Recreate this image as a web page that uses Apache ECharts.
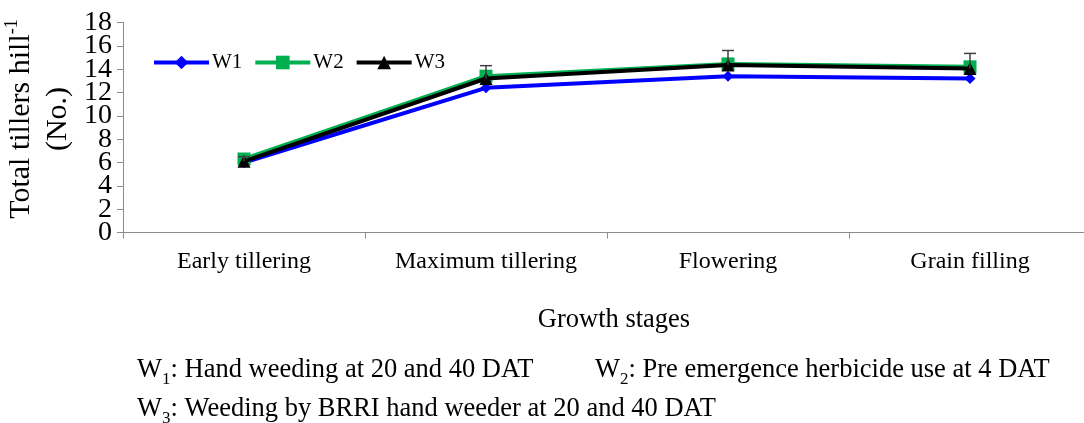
<!DOCTYPE html>
<html>
<head>
<meta charset="utf-8">
<script src="https://cdn.jsdelivr.net/npm/echarts@6/dist/echarts.min.js"></script>
<style>
html,body{margin:0;padding:0;background:#fff;}
#chart{width:1084px;height:423px;}
</style>
</head>
<body>
<div id="chart"></div>
<script>
const categories = ['Early tillering', 'Maximum tillering', 'Flowering', 'Grain filling'];
const seriesNames = ['W1', 'W2', 'W3'];
const w1 = [6.0, 12.4, 13.4, 13.2];
const w2 = [6.3, 13.4, 14.45, 14.2];
const w3 = [6.1, 13.2, 14.35, 14.05];
const w3Error = [0.4, 1.1, 1.25, 1.3];
const yTicks = { min: 0, max: 18, interval: 2 };

const FONT = '"Liberation Serif", "Times New Roman", serif';
const chart = echarts.init(document.getElementById('chart'), null, { renderer: 'canvas' });

const errData = categories.map((c, i) => [i, w3[i], w3[i] + w3Error[i]]);

// Labels are split over two overlaid axes (alternating ticks) so that ECharts
// does not drop any of the tightly packed tick labels.
function yLabelStyle(keepRemainder) {
  return {
    fontFamily: FONT, fontSize: 28, color: '#000', margin: 11,
    showMinLabel: true, showMaxLabel: true, hideOverlap: false,
    formatter: function (v) {
      return (Math.round(v / yTicks.interval) % 2 === keepRemainder) ? String(v) : '';
    }
  };
}

const option = {
  animation: false,
  backgroundColor: '#ffffff',
  grid: { left: 123, width: 968, top: 22.5, bottom: 190.5, containLabel: false, outerBoundsMode: 'none' },
  legend: {
    left: 147, top: 47,
    itemWidth: 55, itemHeight: 17, itemGap: 11,
    lineStyle: { width: 4 },
    textStyle: { fontFamily: FONT, fontSize: 21, color: '#000', padding: [0, 0, 0, -2] },
    data: seriesNames
  },
  xAxis: {
    type: 'category',
    data: categories,
    boundaryGap: true,
    axisLine: { lineStyle: { color: '#8c8c8c', width: 1 } },
    axisTick: { show: true, length: 6, lineStyle: { color: '#8c8c8c' } },
    axisLabel: { fontFamily: FONT, fontSize: 24, color: '#000', margin: 17 },
    splitLine: { show: false }
  },
  yAxis: [
    {
      type: 'value', position: 'left', offset: 0,
      min: yTicks.min, max: yTicks.max, interval: yTicks.interval,
      axisLine: { show: true, lineStyle: { color: '#8c8c8c', width: 1 } },
      axisTick: { show: true, length: 6, lineStyle: { color: '#8c8c8c' } },
      axisLabel: yLabelStyle(0),
      splitLine: { show: false }
    },
    {
      type: 'value', position: 'left', offset: 0,
      min: yTicks.min, max: yTicks.max, interval: yTicks.interval,
      axisLine: { show: false },
      axisTick: { show: false },
      axisLabel: yLabelStyle(1),
      splitLine: { show: false }
    }
  ],
  series: [
    {
      name: 'W1', type: 'line', data: w1, yAxisIndex: 0,
      symbol: 'diamond', symbolSize: 11,
      lineStyle: { color: '#0000ff', width: 4 },
      itemStyle: { color: '#0000ff' },
      z: 2
    },
    {
      name: 'W2', type: 'line', data: w2, yAxisIndex: 0,
      symbol: 'rect', symbolSize: 13,
      lineStyle: { color: '#00b050', width: 4 },
      itemStyle: { color: '#00b050' },
      z: 3
    },
    {
      name: 'W3', type: 'line', data: w3, yAxisIndex: 0,
      symbol: 'triangle', symbolSize: 13,
      lineStyle: { color: '#000000', width: 4 },
      itemStyle: { color: '#000000' },
      z: 4
    },
    {
      type: 'custom',
      name: 'err',
      data: errData,
      yAxisIndex: 0,
      z: 5,
      renderItem: function (params, api) {
        const x = api.value(0);
        const lo = api.coord([x, api.value(1)]);
        const hi = api.coord([x, api.value(2)]);
        const half = 6;
        const st = { stroke: '#404040', lineWidth: 1.5 };
        return {
          type: 'group',
          children: [
            { type: 'line', shape: { x1: lo[0], y1: lo[1], x2: hi[0], y2: hi[1] }, style: st },
            { type: 'line', shape: { x1: hi[0] - half, y1: hi[1], x2: hi[0] + half, y2: hi[1] }, style: st }
          ]
        };
      }
    }
  ],
  graphic: [
    {
      type: 'text', x: 40, y: 119, rotation: Math.PI / 2,
      style: {
        text: 'Total tillers hill{sup|-1}\n(No.)',
        align: 'center', verticalAlign: 'middle',
        fontFamily: FONT, fontSize: 30, lineHeight: 37, fill: '#000',
        rich: {
          sup: { fontFamily: FONT, fontSize: 18, lineHeight: 18, verticalAlign: 'top', fill: '#000' }
        }
      }
    },
    {
      type: 'text', x: 614, y: 320,
      style: { text: 'Growth stages', align: 'center', verticalAlign: 'middle', fontFamily: FONT, fontSize: 26.5, fill: '#000' }
    },
    {
      type: 'text', x: 137, y: 370,
      style: {
        text: 'W{sub|1}: Hand weeding at 20 and 40 DAT',
        align: 'left', verticalAlign: 'middle',
        fontFamily: FONT, fontSize: 26.5, lineHeight: 36, fill: '#000',
        rich: { sub: { fontFamily: FONT, fontSize: 17, lineHeight: 17, verticalAlign: 'bottom', fill: '#000' } }
      }
    },
    {
      type: 'text', x: 595, y: 370,
      style: {
        text: 'W{sub|2}: Pre emergence herbicide use at 4 DAT',
        align: 'left', verticalAlign: 'middle',
        fontFamily: FONT, fontSize: 26.5, lineHeight: 36, fill: '#000',
        rich: { sub: { fontFamily: FONT, fontSize: 17, lineHeight: 17, verticalAlign: 'bottom', fill: '#000' } }
      }
    },
    {
      type: 'text', x: 137, y: 409,
      style: {
        text: 'W{sub|3}: Weeding by BRRI hand weeder at 20 and 40 DAT',
        align: 'left', verticalAlign: 'middle',
        fontFamily: FONT, fontSize: 26.5, lineHeight: 36, fill: '#000',
        rich: { sub: { fontFamily: FONT, fontSize: 17, lineHeight: 17, verticalAlign: 'bottom', fill: '#000' } }
      }
    }
  ]
};
chart.setOption(option);
</script>
</body>
</html>
